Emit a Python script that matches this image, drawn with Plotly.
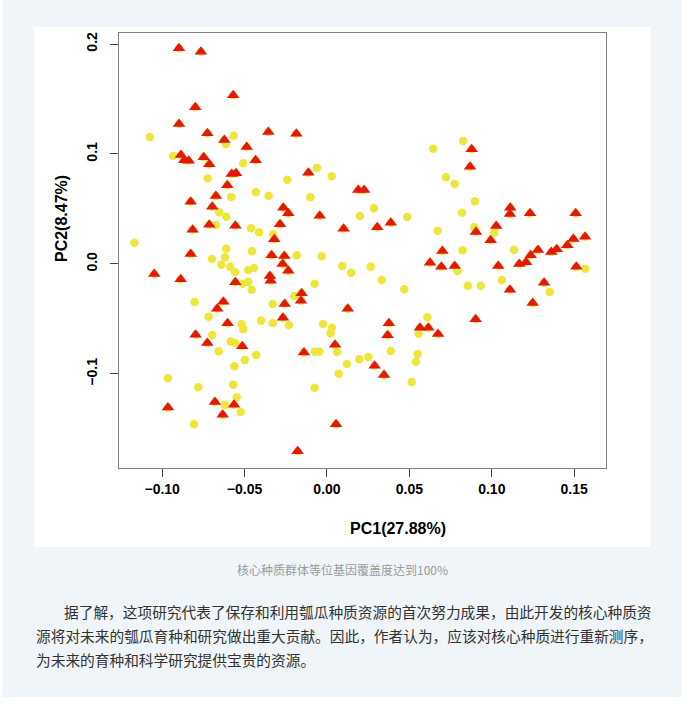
import plotly.graph_objects as go

# PCA scores: core collection (triangles) and the rest of the accessions
pc1_core = [-0.0898, -0.0765, -0.0569, -0.0799, -0.0898, -0.0726, -0.0623, -0.0356, -0.0186, -0.0487,
            -0.0886, -0.0866, -0.0839, -0.0748, -0.0714, -0.0433, -0.0578, -0.0552, -0.0113, -0.0605,
            0.0190, 0.0225, -0.0674, -0.0827, -0.0696, -0.0265, -0.0235, -0.0044, -0.0815, -0.0714,
            -0.0556, -0.0285, -0.0320, 0.0101, -0.0827, -0.0336, -0.0259, -0.0269, -0.0235, -0.1048,
            -0.0888, -0.0556, -0.0346, -0.0342, -0.0629, -0.0666, -0.0603, -0.0257, -0.0154, -0.0158,
            -0.0267, 0.0126, 0.0049, -0.0797, -0.0726, -0.0514, -0.0140, -0.0680, -0.0564, -0.0633,
            -0.0965, 0.0055, -0.0178, 0.0878, 0.0868, 0.0305, 0.0387, 0.1112, 0.1110, 0.1232,
            0.1509, 0.0904, 0.1027, 0.0993, 0.0700, 0.1280, 0.1236, 0.1361, 0.1394, 0.1458,
            0.1495, 0.1566, 0.1167, 0.1208, 0.0625, 0.0694, 0.0775, 0.1039, 0.1110, 0.1317,
            0.1248, 0.1513, 0.0376, 0.0368, 0.0564, 0.0615, 0.0674, 0.0902, 0.0289, 0.0346]
pc2_core = [0.1961, 0.1930, 0.1534, 0.1425, 0.1273, 0.1188, 0.1127, 0.1200, 0.1185, 0.1064,
            0.0991, 0.0943, 0.0939, 0.0970, 0.0906, 0.0943, 0.0818, 0.0825, 0.0830, 0.0715,
            0.0673, 0.0673, 0.0618, 0.0566, 0.0521, 0.0512, 0.0461, 0.0439, 0.0312, 0.0357,
            0.0348, 0.0361, 0.0225, 0.0321, 0.0091, 0.0079, 0.0073, 0.0000, -0.0061, -0.0091,
            -0.0139, -0.0166, -0.0109, -0.0152, -0.0343, -0.0406, -0.0539, -0.0364, -0.0266, -0.0334,
            -0.0488, -0.0406, -0.0734, -0.0643, -0.0718, -0.0748, -0.0806, -0.1255, -0.1279, -0.1370,
            -0.1306, -0.1457, -0.1703, 0.1043, 0.0885, 0.0334, 0.0375, 0.0512, 0.0455, 0.0461,
            0.0461, 0.0291, 0.0345, 0.0215, 0.0118, 0.0127, 0.0079, 0.0109, 0.0134, 0.0170,
            0.0227, 0.0248, 0.0000, 0.0015, 0.0012, -0.0025, -0.0018, -0.0018, -0.0234, -0.0170,
            -0.0355, -0.0025, -0.0539, -0.0648, -0.0579, -0.0579, -0.0636, -0.0503, -0.0925, -0.1009]

pc1_other = [-0.1074, -0.0613, -0.0566, -0.0933, -0.0508, -0.0724, -0.0061, 0.0029, -0.0241, -0.0581,
             -0.0431, -0.0354, -0.0101, -0.0654, -0.0611, 0.0200, -0.0674, -0.0461, -0.0413, -0.0326,
             -0.1169, -0.0611, -0.0455, -0.0698, -0.0619, -0.0184, -0.0032, -0.0641, -0.0587, -0.0558,
             -0.0478, -0.0443, 0.0093, 0.0146, -0.0512, -0.0478, -0.0457, -0.0075, -0.0803, -0.0718,
             -0.0518, -0.0508, -0.0400, -0.0329, -0.0198, -0.0329, -0.0232, -0.0024, 0.0030, 0.0022,
             0.0061, -0.0696, -0.0657, -0.0584, -0.0556, -0.0499, -0.0429, -0.0073, -0.0047, -0.0562,
             0.0121, 0.0071, 0.0196, -0.0965, -0.0781, -0.0569, -0.0075, -0.0548, -0.0621, -0.0524,
             -0.0807, 0.0645, 0.0827, 0.0722, 0.0775, 0.0285, 0.0487, 0.0898, 0.0819, 0.0672,
             0.0894, 0.1015, 0.0823, 0.1135, 0.0265, 0.0332, 0.0469, 0.0791, 0.0854, 0.0933,
             0.1062, 0.1351, 0.1567, 0.0387, 0.0609, 0.0556, 0.0550, 0.0540, 0.0514, 0.0251]
pc2_other = [0.1155, 0.1091, 0.1166, 0.0982, 0.0915, 0.0779, 0.0875, 0.0797, 0.0766, 0.0609,
             0.0652, 0.0621, 0.0606, 0.0470, 0.0430, 0.0436, 0.0355, 0.0325, 0.0288, 0.0270,
             0.0194, 0.0139, 0.0115, 0.0045, 0.0061, 0.0079, 0.0070, -0.0006, -0.0025, -0.0073,
             -0.0055, -0.0036, -0.0018, -0.0079, -0.0179, -0.0161, -0.0234, -0.0179, -0.0345, -0.0479,
             -0.0545, -0.0594, -0.0515, -0.0364, -0.0291, -0.0536, -0.0555, -0.0545, -0.0579, -0.0630,
             -0.0800, -0.0645, -0.0794, -0.0706, -0.0721, -0.0873, -0.0827, -0.0797, -0.0797, -0.0930,
             -0.0909, -0.0997, -0.0866, -0.1039, -0.1121, -0.1097, -0.1125, -0.1212, -0.1282, -0.1345,
             -0.1457, 0.1048, 0.1118, 0.0788, 0.0727, 0.0506, 0.0427, 0.0570, 0.0466, 0.0303,
             0.0334, 0.0285, 0.0125, 0.0130, -0.0025, -0.0145, -0.0230, -0.0064, -0.0197, -0.0197,
             -0.0145, -0.0255, -0.0043, -0.0791, -0.0485, -0.0634, -0.0818, -0.0888, -0.1073, -0.0845]

x_ticks = [-0.10, -0.05, 0.00, 0.05, 0.10, 0.15]
x_tick_labels = ["\u22120.10", "\u22120.05", "0.00", "0.05", "0.10", "0.15"]
y_ticks = [-0.1, 0.0, 0.1, 0.2]
y_tick_labels = ["\u22120.1", "0.0", "0.1", "0.2"]

caption = "核心种质群体等位基因覆盖度达到100%"
paragraph = [
    "据了解，这项研究代表了保存和利用瓠瓜种质资源的首次努力成果，由此开发的核心种质资",
    "源将对未来的瓠瓜育种和研究做出重大贡献。因此，作者认为，应该对核心种质进行重新测序，",
    "为未来的育种和科学研究提供宝贵的资源。",
]

W, H = 688, 713
PL, PR, PT, PB = 119, 606, 33, 468   # plot box in page pixels


def px(x):
    return (x - PL) / (PR - PL)


def py(y):
    return (PB - y) / (PB - PT)


YELLOW = "#EEE63B"
RED = "#E3170F"

fig = go.Figure()
fig.add_trace(go.Scatter(
    x=pc1_other + pc1_core, y=pc2_other + pc2_core, mode="markers",
    marker=dict(symbol="circle", size=8.5, color=YELLOW, line=dict(width=0)),
    hoverinfo="x+y", showlegend=False))
fig.add_trace(go.Scatter(
    x=pc1_core, y=pc2_core, mode="markers",
    marker=dict(symbol="triangle-up", size=11, color=RED, line=dict(width=0)),
    hoverinfo="x+y", showlegend=False))

tick_font = dict(family="Liberation Sans", size=14, color="#000000", weight="bold")
axis_common = dict(showline=True, linecolor="#808080", linewidth=1, mirror=True,
                   ticks="outside", ticklen=8, tickwidth=1, tickcolor="#444444",
                   showgrid=False, zeroline=False, tickfont=tick_font, fixedrange=True)

fig.update_xaxes(range=[-0.1262, 0.1693], tickvals=x_ticks, ticktext=x_tick_labels, **axis_common)
fig.update_yaxes(range=[-0.1855, 0.2100], tickvals=y_ticks, ticktext=y_tick_labels,
                 tickangle=-90, ticklabelstandoff=7, **axis_common)

shapes = [
    # page background and white figure panel
    dict(type="rect", xref="paper", yref="paper", layer="below",
         x0=px(3), x1=px(682), y0=py(697), y1=py(0),
         fillcolor="#F0F5F9", line=dict(width=0)),
    dict(type="rect", xref="paper", yref="paper", layer="below",
         x0=px(34), x1=px(651), y0=py(547), y1=py(27),
         fillcolor="#FFFFFF", line=dict(width=0)),
]

annotations = [
    dict(text="PC1(27.88%)", x=px(398), y=py(528), xref="paper", yref="paper",
         showarrow=False, xanchor="center", yanchor="middle",
         font=dict(family="Liberation Sans", size=16, color="#000000", weight="bold")),
    dict(text="PC2(8.47%)", x=px(62), y=py(219), xref="paper", yref="paper",
         showarrow=False, xanchor="center", yanchor="middle", textangle=-90,
         font=dict(family="Liberation Sans", size=16, color="#000000", weight="bold")),
    dict(text=caption, x=px(342), y=py(569), xref="paper", yref="paper",
         showarrow=False, xanchor="center", yanchor="middle",
         font=dict(family="Noto Sans CJK SC", size=12, color="#9B9B9B")),
]
line_x = [62, 34, 34]
line_y = [611, 635, 659]
for txt, lx, ly in zip(paragraph, line_x, line_y):
    annotations.append(dict(text=txt, x=px(lx), y=py(ly), xref="paper", yref="paper",
                            showarrow=False, xanchor="left", yanchor="middle",
                            font=dict(family="Noto Sans CJK SC", size=14.7, color="#333333")))

fig.update_layout(
    width=W, height=H,
    margin=dict(l=PL, r=W - PR, t=PT, b=H - PB, pad=0),
    paper_bgcolor="#FFFFFF", plot_bgcolor="#FFFFFF",
    shapes=shapes, annotations=annotations,
)

fig.write_html("out.html", config={"displayModeBar": False},
               post_script="document.body.style.margin='0';document.body.style.overflow='hidden';")
